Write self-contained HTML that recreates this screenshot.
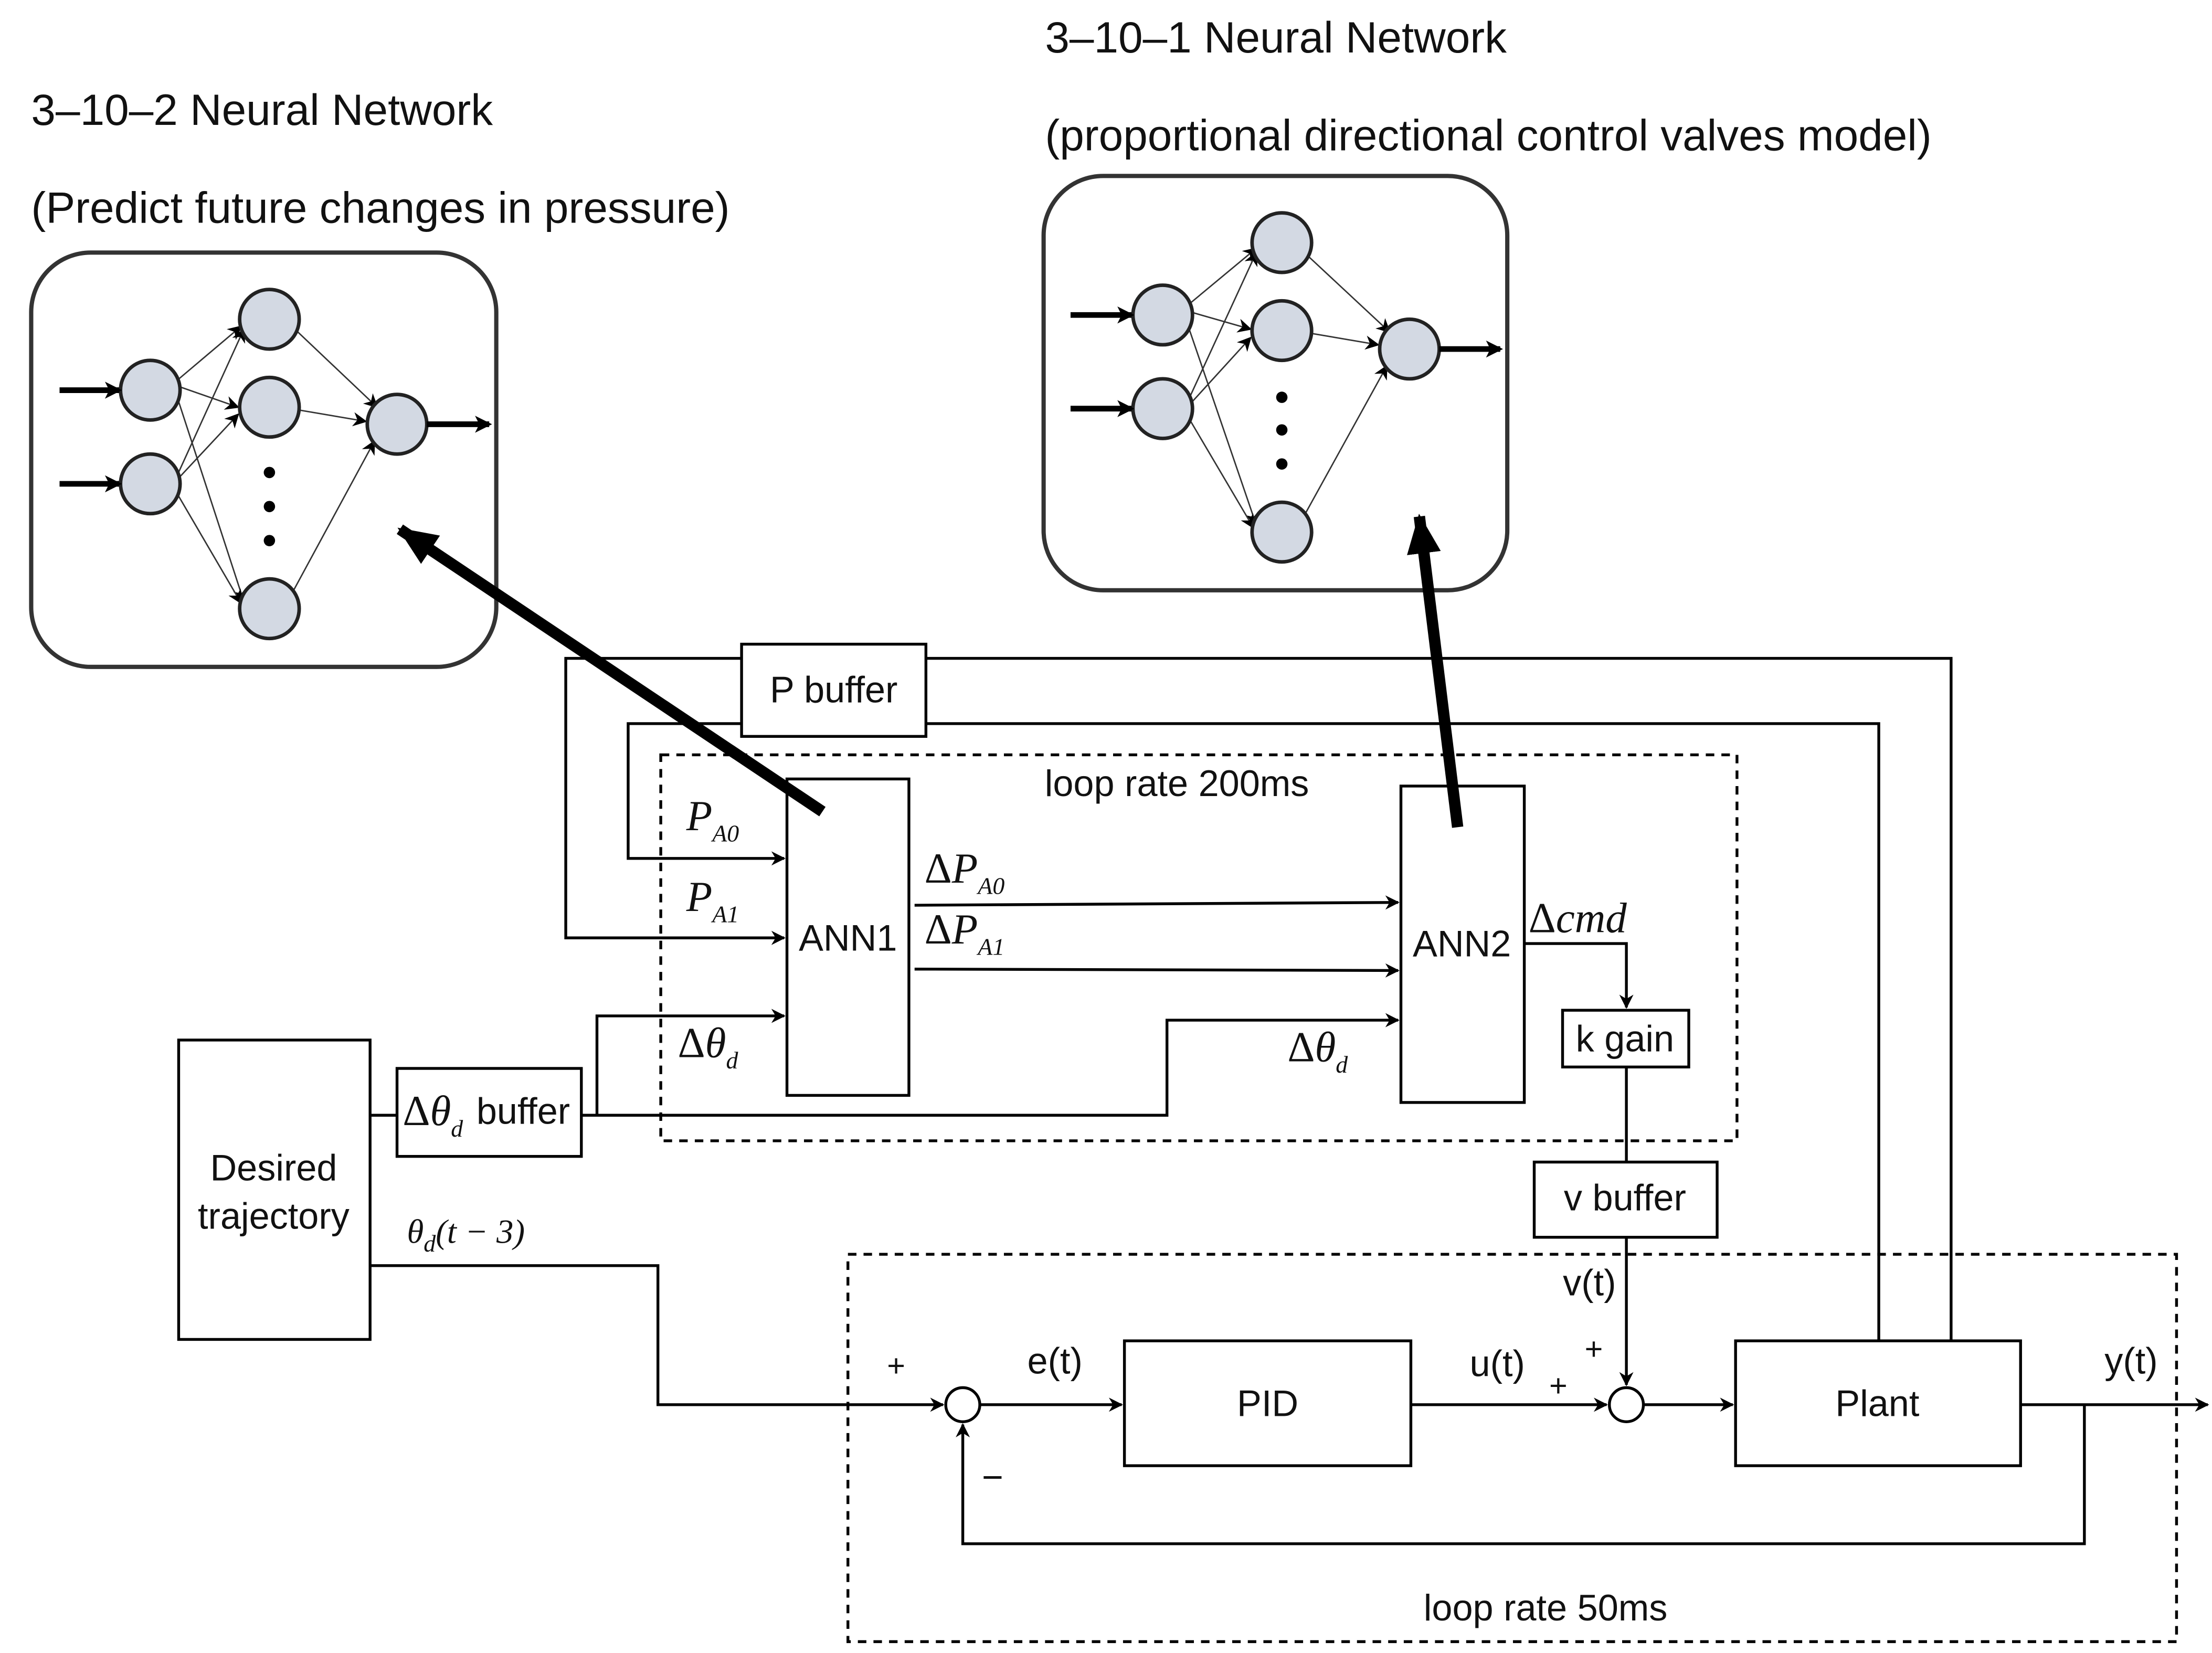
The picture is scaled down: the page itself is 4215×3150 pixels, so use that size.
<!DOCTYPE html>
<html><head><meta charset="utf-8"><style>
html,body{margin:0;padding:0;background:#fff;}
svg{display:block;}
.t{font-family:"Liberation Sans",sans-serif;font-size:26px;fill:#111;}
.h{font-family:"Liberation Sans",sans-serif;font-size:31px;fill:#111;}
.m{font-family:"Liberation Serif",serif;font-style:italic;font-size:30px;fill:#111;}
.u{font-style:normal;}
.s{font-family:"Liberation Serif",serif;font-style:italic;font-size:17px;}
</style></head><body>
<svg width="4215" height="3150" viewBox="0 0 1560 1165" preserveAspectRatio="none" xmlns="http://www.w3.org/2000/svg">
<defs>
<marker id="a" markerWidth="10" markerHeight="10" refX="9" refY="5" orient="auto" markerUnits="userSpaceOnUse"><path d="M0,0 L10,5 L0,10 L3,5 z" fill="#000"/></marker>
<marker id="b" markerWidth="12" markerHeight="12" refX="10" refY="6" orient="auto" markerUnits="userSpaceOnUse"><path d="M0,0 L12,6 L0,12 L3,6 z" fill="#000"/></marker>
<marker id="c" markerWidth="30" markerHeight="30" refX="26" refY="15" orient="auto" markerUnits="userSpaceOnUse"><path d="M0,3 L28,15 L0,27 z" fill="#000"/></marker>
</defs>
<rect width="1560" height="1165" fill="#fff"/>
<text class="h" x="22" y="88">3–10–2 Neural Network</text>
<text class="h" x="22" y="157">(Predict future changes in pressure)</text>
<text class="h" x="737" y="37">3–10–1 Neural Network</text>
<text class="h" x="737" y="106">(proportional directional control valves model)</text>

<rect x="22" y="178" width="328" height="292" rx="42" fill="none" stroke="#333" stroke-width="3"/>
<rect x="736" y="124" width="327" height="292" rx="42" fill="none" stroke="#333" stroke-width="3"/>

<g stroke="#333" stroke-width="1" marker-end="url(#a)">
<line x1="125" y1="268" x2="170" y2="230"/><line x1="125" y1="272" x2="168" y2="287"/><line x1="125" y1="280" x2="172" y2="424"/>
<line x1="125" y1="335" x2="172" y2="232"/><line x1="125" y1="338" x2="168" y2="292"/><line x1="125" y1="348" x2="170" y2="425"/>
<line x1="209" y1="233" x2="266" y2="287"/><line x1="211" y1="289" x2="258" y2="297"/><line x1="206" y1="418" x2="264" y2="311"/>
<line x1="839" y1="214" x2="886" y2="175"/><line x1="840" y1="220" x2="882" y2="232"/><line x1="838" y1="230" x2="886" y2="370"/>
<line x1="839" y1="280" x2="886" y2="178"/><line x1="840" y1="284" x2="882" y2="238"/><line x1="838" y1="294" x2="884" y2="372"/>
<line x1="922" y1="180" x2="980" y2="234"/><line x1="925" y1="235" x2="972" y2="243"/><line x1="920" y1="363" x2="978" y2="258"/>
</g>
<g fill="#d3d9e3" stroke="#222" stroke-width="2.5">
<circle cx="106" cy="275" r="21"/><circle cx="106" cy="341" r="21"/>
<circle cx="190" cy="225" r="21"/><circle cx="190" cy="287" r="21"/><circle cx="190" cy="429" r="21"/>
<circle cx="280" cy="299" r="21"/>
<circle cx="820" cy="222" r="21"/><circle cx="820" cy="288" r="21"/>
<circle cx="904" cy="171" r="21"/><circle cx="904" cy="233" r="21"/><circle cx="904" cy="375" r="21"/>
<circle cx="994" cy="246" r="21"/>
</g>
<g fill="#000"><circle cx="190" cy="333" r="4"/><circle cx="190" cy="357" r="4"/><circle cx="190" cy="381" r="4"/>
<circle cx="904" cy="280" r="4"/><circle cx="904" cy="303" r="4"/><circle cx="904" cy="327" r="4"/></g>
<g stroke="#000" stroke-width="4" marker-end="url(#b)">
<line x1="42" y1="275" x2="84" y2="275"/><line x1="42" y1="341" x2="84" y2="341"/><line x1="301" y1="299" x2="345" y2="299"/>
<line x1="755" y1="222" x2="798" y2="222"/><line x1="755" y1="288" x2="798" y2="288"/><line x1="1015" y1="246" x2="1058" y2="246"/>
</g>
<g stroke="#000" stroke-width="8" marker-end="url(#c)">
<line x1="580" y1="572" x2="282" y2="373"/>
<line x1="1028" y1="583" x2="1001" y2="364"/>
</g>

<g fill="none" stroke="#000" stroke-width="2">
<rect x="523" y="454" width="130" height="65" fill="#fff"/>
<polyline points="523,464 399,464 399,661 553,661" marker-end="url(#a)"/>
<polyline points="653,464 1376,464 1376,945"/>
<polyline points="523,510 443,510 443,605 553,605" marker-end="url(#a)"/>
<polyline points="653,510 1325,510 1325,945"/>
<rect x="555" y="549" width="86" height="223"/>
<rect x="988" y="554" width="87" height="223"/>
<line x1="645" y1="638" x2="986" y2="636" marker-end="url(#a)"/>
<line x1="645" y1="683" x2="986" y2="684" marker-end="url(#a)"/>
<rect x="280" y="753" width="130" height="62"/>
<line x1="261" y1="786" x2="280" y2="786"/>
<polyline points="410,786 421,786 421,716 553,716" marker-end="url(#a)"/>
<polyline points="410,786 823,786 823,719 986,719" marker-end="url(#a)"/>
<polyline points="1075,665 1147,665 1147,710" marker-end="url(#a)"/>
<rect x="1102" y="712" width="89" height="40"/>
<line x1="1147" y1="752" x2="1147" y2="819"/>
<rect x="1082" y="819" width="129" height="53"/>
<line x1="1147" y1="872" x2="1147" y2="976" marker-end="url(#a)"/>
<rect x="126" y="733" width="135" height="211"/>
<polyline points="261,892 464,892 464,990 665,990" marker-end="url(#a)"/>
<circle cx="679" cy="990" r="12"/>
<line x1="691" y1="990" x2="791" y2="990" marker-end="url(#a)"/>
<rect x="793" y="945" width="202" height="88"/>
<line x1="995" y1="990" x2="1133" y2="990" marker-end="url(#a)"/>
<circle cx="1147" cy="990" r="12"/>
<line x1="1159" y1="990" x2="1222" y2="990" marker-end="url(#a)"/>
<rect x="1224" y="945" width="201" height="88"/>
<line x1="1425" y1="990" x2="1557" y2="990" marker-end="url(#a)"/>
<polyline points="1470,990 1470,1088 679,1088 679,1004" marker-end="url(#a)"/>
</g>
<g fill="none" stroke="#000" stroke-width="2" stroke-dasharray="6,5">
<rect x="466" y="532" width="759" height="272"/>
<rect x="598" y="884" width="937" height="273"/>
</g>

<text class="t" x="830" y="561" text-anchor="middle">loop rate 200ms</text>
<text class="t" x="1090" y="1142" text-anchor="middle">loop rate 50ms</text>
<text class="t" x="588" y="495" text-anchor="middle">P buffer</text>
<text class="t" x="598" y="670" text-anchor="middle">ANN1</text>
<text class="t" x="1031" y="674" text-anchor="middle">ANN2</text>
<text class="t" x="1146" y="741" text-anchor="middle">k gain</text>
<text class="t" x="1146" y="853" text-anchor="middle">v buffer</text>
<text class="t" x="193" y="832" text-anchor="middle">Desired</text>
<text class="t" x="193" y="866" text-anchor="middle">trajectory</text>
<text class="t" x="894" y="998" text-anchor="middle">PID</text>
<text class="t" x="1324" y="998" text-anchor="middle">Plant</text>
<text class="t" x="744" y="968" text-anchor="middle">e(t)</text>
<text class="t" x="1056" y="970" text-anchor="middle">u(t)</text>
<text class="t" x="1121" y="913" text-anchor="middle">v(t)</text>
<text class="t" x="1503" y="968" text-anchor="middle">y(t)</text>
<text class="t" x="632" y="970" text-anchor="middle" style="font-size:22px">+</text>
<text class="t" x="1099" y="984" text-anchor="middle" style="font-size:22px">+</text>
<text class="t" x="1124" y="958" text-anchor="middle" style="font-size:22px">+</text>
<text class="t" x="700" y="1050" text-anchor="middle">−</text>
<text class="m" x="284" y="793"><tspan class="u">Δ</tspan>θ<tspan class="s" dy="8">d</tspan></text>
<text class="t" x="336" y="792">buffer</text>
<text class="m" x="484" y="585">P<tspan class="s" dy="8">A0</tspan></text>
<text class="m" x="484" y="642">P<tspan class="s" dy="8">A1</tspan></text>
<text class="m" x="478" y="745"><tspan class="u">Δ</tspan>θ<tspan class="s" dy="8">d</tspan></text>
<text class="m" x="652" y="622"><tspan class="u">Δ</tspan>P<tspan class="s" dy="8">A0</tspan></text>
<text class="m" x="652" y="665"><tspan class="u">Δ</tspan>P<tspan class="s" dy="8">A1</tspan></text>
<text class="m" x="908" y="748"><tspan class="u">Δ</tspan>θ<tspan class="s" dy="8">d</tspan></text>
<text class="m" x="1078" y="657"><tspan class="u">Δ</tspan>cmd</text>
<text class="m" x="287" y="876" style="font-size:24px">θ<tspan class="s" dy="6">d</tspan><tspan dy="-6">(t − 3)</tspan></text>
</svg>
</body></html>
